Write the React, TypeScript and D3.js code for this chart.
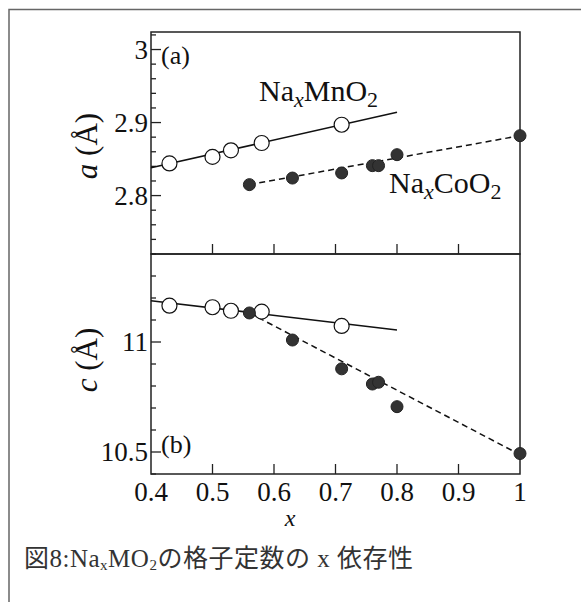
import * as d3 from "d3";

// lattice constants vs x
const mnX = [0.43, 0.5, 0.53, 0.58, 0.71];
const mnA = [2.844, 2.853, 2.862, 2.872, 2.897];
const mnC = [11.165, 11.158, 11.142, 11.138, 11.073];

const coX = [0.56, 0.63, 0.71, 0.76, 0.77, 0.8, 1.0];
const coA = [2.815, 2.824, 2.831, 2.841, 2.841, 2.856, 2.882];
const coC = [11.132, 11.009, 10.878, 10.809, 10.817, 10.706, 10.493];

// fitted lines (end points)
const mnFitX = [0.4, 0.8];
const mnFitA = [2.838, 2.914];
const mnFitC = [11.188, 11.055];
const coFitX = [0.56, 1.0];
const coFitA = [2.815, 2.882];
const coFitC = [11.132, 10.488];

const xTickLabels = ["0.4", "0.5", "0.6", "0.7", "0.8", "0.9", "1"];
const aTickLabels = ["2.8", "2.9", "3"];
const cTickLabels = ["10.5", "11"];

const LEFT = 151;
const RIGHT = 520;
const TOP = 32;
const MID = 254;
const BOTTOM = 474;
const SERIF = "'Liberation Serif', 'DejaVu Serif', serif";

const xScale = d3.scaleLinear().domain([0.4, 1.0]).range([LEFT, RIGHT]);
const yA = d3.scaleLinear().domain([2.72, 3.024]).range([MID, TOP]);
const yC = d3.scaleLinear().domain([10.4, 11.4]).range([BOTTOM, MID]);

const line = (xs: number[], ys: number[], y: d3.ScaleLinear<number, number>) =>
    d3
        .line<number>()
        .x((_, i) => xScale(xs[i]))
        .y((v) => y(v))(ys) || "";

const Panel = ({
    y,
    top,
    bottom,
    a,
    minorStep,
    labels,
}: {
    y: d3.ScaleLinear<number, number>;
    top: number;
    bottom: number;
    a: boolean;
    minorStep: number;
    labels: string[];
}) => {
    const [d0, d1] = y.domain();
    const yTicks = d3.range(Math.ceil(d0 / minorStep - 1e-6) * minorStep, d1 + 1e-9, minorStep);
    const mn = a ? mnA : mnC;
    const co = a ? coA : coC;
    return (
        <g>
            {/* y ticks, inward */}
            {yTicks.map((t, i) => {
                const major = labels.some((l) => Math.abs(+l - t) < 1e-6);
                return (
                    <line
                        key={i}
                        x1={LEFT}
                        x2={LEFT + (major ? 10 : 5)}
                        y1={y(t)}
                        y2={y(t)}
                        stroke="#222"
                        strokeWidth={1.3}
                    />
                );
            })}
            {labels.map((l) => (
                <text
                    key={l}
                    x={LEFT - 3}
                    y={y(+l)}
                    dy="0.35em"
                    textAnchor="end"
                    fontSize={27}
                    fontFamily={SERIF}
                    fill="#111"
                >
                    {l}
                </text>
            ))}
            {/* x ticks on the bottom edge, pointing up */}
            {xTickLabels.slice(1, -1).map((l) => (
                <line
                    key={l}
                    x1={xScale(+l)}
                    x2={xScale(+l)}
                    y1={bottom}
                    y2={bottom - 10}
                    stroke="#222"
                    strokeWidth={1.3}
                />
            ))}
            <rect
                x={LEFT}
                y={top}
                width={RIGHT - LEFT}
                height={bottom - top}
                fill="none"
                stroke="#222"
                strokeWidth={1.5}
            />
            {/* fits */}
            <path d={line(mnFitX, a ? mnFitA : mnFitC, y)} fill="none" stroke="#111" strokeWidth={1.5} />
            <path
                d={line(coFitX, a ? coFitA : coFitC, y)}
                fill="none"
                stroke="#111"
                strokeWidth={1.5}
                strokeDasharray="6,4"
            />
            {mn.map((v, i) => (
                <circle key={"m" + i} cx={xScale(mnX[i])} cy={y(v)} r={7.5} fill="#fff" stroke="#111" strokeWidth={1.2} />
            ))}
            {co.map((v, i) => (
                <circle key={"c" + i} cx={xScale(coX[i])} cy={y(v)} r={6} fill="#333" stroke="#222" strokeWidth={1} />
            ))}
        </g>
    );
};

const Formula = ({ x, y, m }: { x: number; y: number; m: string }) => (
    <text x={x} y={y} fontSize={30} fontFamily={SERIF} fill="#111">
        Na
        <tspan fontStyle="italic" fontSize={22} dy={6}>
            x
        </tspan>
        <tspan dy={-6}>{m}O</tspan>
        <tspan fontSize={22} dy={6}>
            2
        </tspan>
    </text>
);

const AxisTitle = ({ cx, cy, v }: { cx: number; cy: number; v: string }) => (
    <text
        transform={`translate(${cx},${cy}) rotate(-90)`}
        textAnchor="middle"
        fontSize={31}
        fontFamily={SERIF}
        fill="#111"
    >
        <tspan fontStyle="italic">{v}</tspan> (Å)
    </text>
);

export default function App() {
    return (
        <svg width={581} height={602} style={{ position: "absolute", left: 0, top: 0, background: "#fff" }}>
            {/* outer frame */}
            <path d="M9,602 V9.5 H581" fill="none" stroke="#666" strokeWidth={1.5} />

            <Panel y={yA} top={TOP} bottom={MID} a={true} minorStep={0.02} labels={aTickLabels} />
            <Panel y={yC} top={MID} bottom={BOTTOM} a={false} minorStep={0.1} labels={cTickLabels} />

            <text x={161} y={64} fontSize={26} fontFamily={SERIF} fill="#111">
                (a)
            </text>
            <text x={161} y={453} fontSize={26} fontFamily={SERIF} fill="#111">
                (b)
            </text>

            <Formula x={259} y={101} m="Mn" />
            <Formula x={389} y={193} m="Co" />

            <AxisTitle cx={97} cy={146} v="a" />
            <AxisTitle cx={97} cy={360} v="c" />

            {xTickLabels.map((l) => (
                <text
                    key={l}
                    x={xScale(+l)}
                    y={501}
                    textAnchor="middle"
                    fontSize={27}
                    fontFamily={SERIF}
                    fill="#111"
                >
                    {l}
                </text>
            ))}
            <text x={290} y={526} textAnchor="middle" fontSize={24} fontStyle="italic" fontFamily={SERIF} fill="#111">
                x
            </text>

            <text
                x={24}
                y={567}
                fontSize={25}
                letterSpacing={0.5}
                fontFamily="'Liberation Serif', 'Noto Sans CJK JP', serif"
                fill="#333"
            >
                図8:Na
                <tspan fontSize={15} dy={3}>
                    x
                </tspan>
                <tspan dy={-3}>MO</tspan>
                <tspan fontSize={15} dy={3}>
                    2
                </tspan>
                <tspan dy={-3}>の格子定数の x 依存性</tspan>
            </text>
        </svg>
    );
}
